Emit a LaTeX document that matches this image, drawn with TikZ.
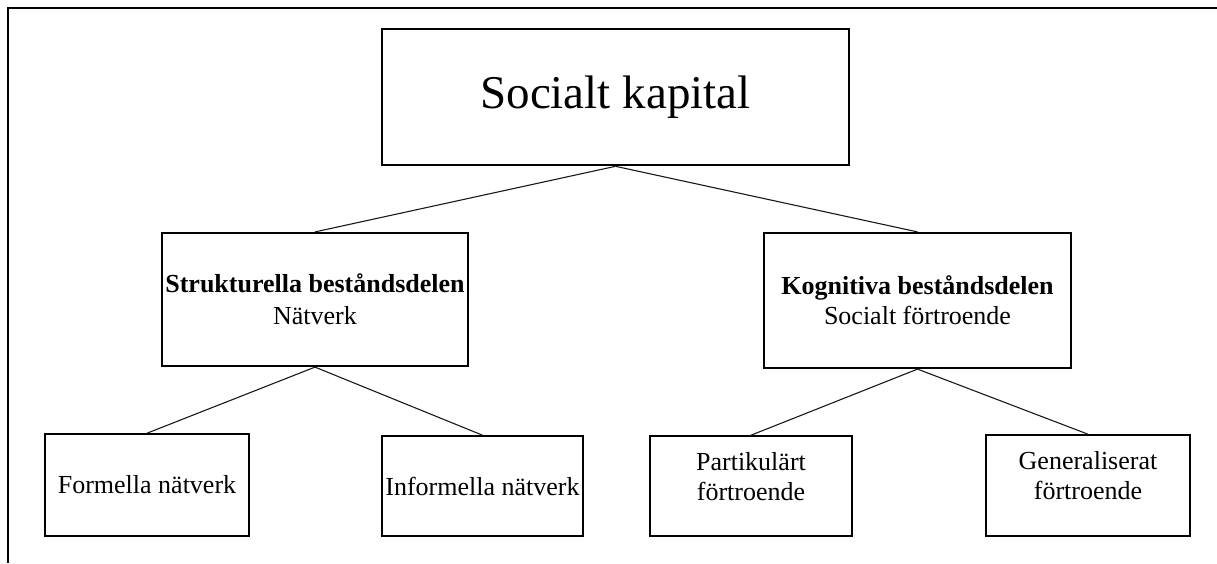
\documentclass[tikz,border=0pt]{standalone}
\usepackage{fontspec}
\setmainfont{Liberation Serif}
\begin{document}
\begin{tikzpicture}[x=1pt,y=-1pt,
  box/.style={draw=black,line width=1.6pt,align=center,inner sep=0pt,font=\fontsize{26}{30}\selectfont},
  topbox/.style={draw=black,line width=2.6pt,align=center,inner sep=0pt,font=\fontsize{47}{56}\selectfont},
  midbox/.style={box,line width=2.2pt},
  link/.style={draw=black!90,line width=1.1pt}]
\useasboundingbox (0,0) rectangle (1217,563);
\draw[line width=1.5pt,black] (1217,8) -- (8,8) -- (8,563);
\node[topbox,minimum width=467pt,minimum height=136pt] (top) at (615.5,97) {Socialt kapital};
\node[midbox,minimum width=306pt,minimum height=133pt] (sl) at (315,299.5) {\textbf{Strukturella beståndsdelen}\\[2pt]Nätverk};
\node[midbox,minimum width=307pt,minimum height=135pt] (kr) at (917.5,300.5) {\textbf{Kognitiva beståndsdelen}\\Socialt förtroende};
\node[box,minimum width=204pt,minimum height=102pt] (fn) at (147,485) {Formella nätverk};
\node[box,minimum width=201pt,minimum height=100pt] (in) at (482.5,486) {Informella nätverk};
\node[box,minimum width=202pt,minimum height=100pt,text depth=20pt] (pf) at (751,486) {Partikulärt\\förtroende};
\node[box,minimum width=204pt,minimum height=101pt,text depth=20pt] (gf) at (1088,485.5) {Generaliserat\\förtroende};
\draw[link] (top.south) -- (sl.north);
\draw[link] (top.south) -- (kr.north);
\draw[link] (sl.south) -- (fn.north);
\draw[link] (sl.south) -- (in.north);
\draw[link] (kr.south) -- (pf.north);
\draw[link] (kr.south) -- (gf.north);
\end{tikzpicture}
\end{document}
